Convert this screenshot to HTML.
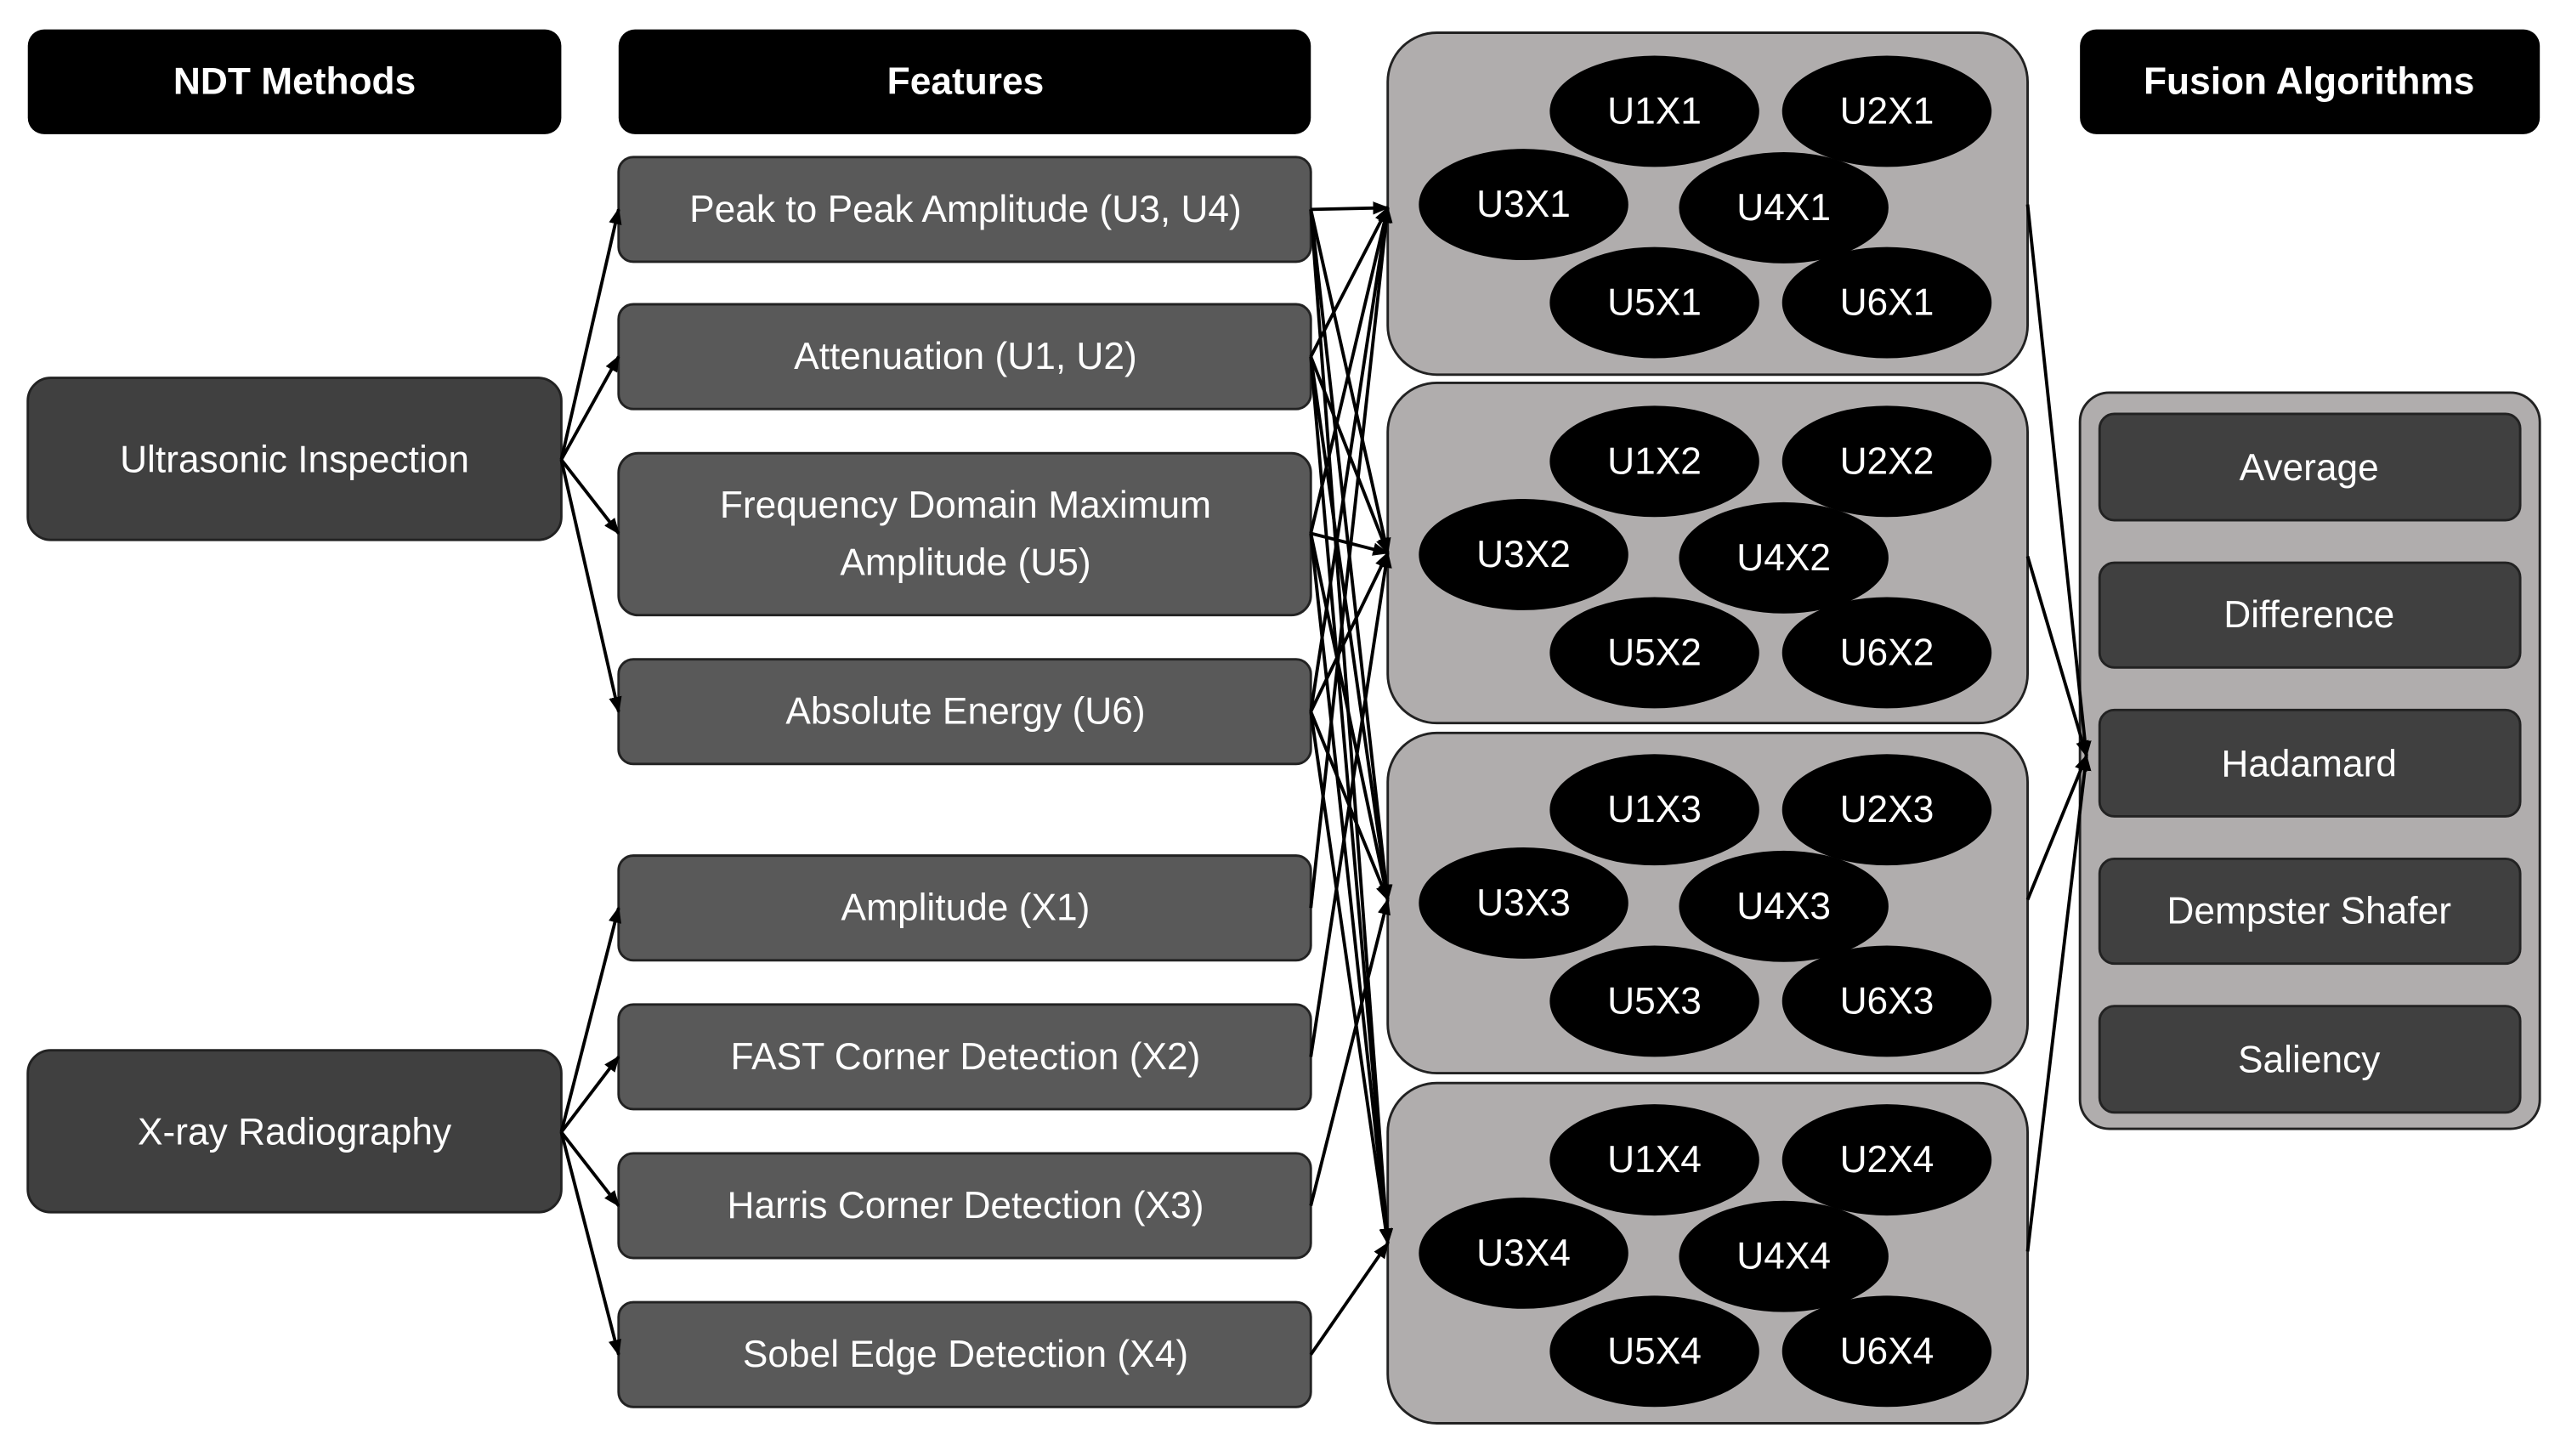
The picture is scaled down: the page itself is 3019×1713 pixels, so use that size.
<!DOCTYPE html>
<html><head><meta charset="utf-8"><style>
html,body{margin:0;padding:0;background:#fff;}
svg{display:block;}
text{font-family:"Liberation Sans",sans-serif;fill:#fff;text-anchor:middle;dominant-baseline:central;}
</style></head><body>
<svg width="3019" height="1713" viewBox="0 0 1568 890" preserveAspectRatio="none" xmlns="http://www.w3.org/2000/svg">
<defs>
<marker id="a" markerWidth="10" markerHeight="8" refX="9" refY="4" orient="auto" markerUnits="userSpaceOnUse">
<path d="M0,0 L10,4 L0,8 z" fill="#000"/></marker>
</defs>
<!-- headers -->
<rect x="17" y="18" width="326" height="64" rx="10" fill="#000"/>
<text x="180" y="50" font-size="23" font-weight="bold">NDT Methods</text>
<rect x="378" y="18" width="423" height="64" rx="10" fill="#000"/>
<text x="590" y="50" font-size="23" font-weight="bold">Features</text>
<rect x="1271" y="18" width="281" height="64" rx="10" fill="#000"/>
<text x="1411" y="50" font-size="23" font-weight="bold">Fusion Algorithms</text>
<!-- NDT -->
<g stroke="#222" stroke-width="1.5">
<rect x="17" y="231" width="326" height="99" rx="14" fill="#404040"/>
<rect x="17" y="642" width="326" height="99" rx="14" fill="#404040"/>
</g>
<text x="180" y="281" font-size="23">Ultrasonic Inspection</text>
<text x="180" y="692" font-size="23">X-ray Radiography</text>
<!-- features -->
<g fill="#595959" stroke="#222" stroke-width="1.5">
<rect x="378" y="96" width="423" height="64" rx="9"/>
<rect x="378" y="186" width="423" height="64" rx="9"/>
<rect x="378" y="277" width="423" height="99" rx="12"/>
<rect x="378" y="403" width="423" height="64" rx="9"/>
<rect x="378" y="523" width="423" height="64" rx="9"/>
<rect x="378" y="614" width="423" height="64" rx="9"/>
<rect x="378" y="705" width="423" height="64" rx="9"/>
<rect x="378" y="796" width="423" height="64" rx="9"/>
</g>
<g font-size="23">
<text x="590" y="128">Peak to Peak Amplitude (U3, U4)</text>
<text x="590" y="218">Attenuation (U1, U2)</text>
<text x="590" y="309">Frequency Domain Maximum</text>
<text x="590" y="344">Amplitude (U5)</text>
<text x="590" y="435">Absolute Energy (U6)</text>
<text x="590" y="555">Amplitude (X1)</text>
<text x="590" y="646">FAST Corner Detection (X2)</text>
<text x="590" y="737">Harris Corner Detection (X3)</text>
<text x="590" y="828">Sobel Edge Detection (X4)</text>
</g>
<!-- groups -->
<g fill="#b0adad" stroke="#222" stroke-width="1.5">
<rect x="848" y="20" width="391" height="209" rx="30"/>
<rect x="848" y="234" width="391" height="208" rx="30"/>
<rect x="848" y="448" width="391" height="208" rx="30"/>
<rect x="848" y="662" width="391" height="208" rx="30"/>
</g>
<g id="g1">
<ellipse cx="1011" cy="68" rx="64" ry="34"/>
<ellipse cx="1153" cy="68" rx="64" ry="34"/>
<ellipse cx="931" cy="125" rx="64" ry="34"/>
<ellipse cx="1090" cy="127" rx="64" ry="34"/>
<ellipse cx="1011" cy="185" rx="64" ry="34"/>
<ellipse cx="1153" cy="185" rx="64" ry="34"/>
</g>
<g font-size="23">
<text x="1011" y="68">U1X1</text><text x="1153" y="68">U2X1</text><text x="931" y="125">U3X1</text><text x="1090" y="127">U4X1</text><text x="1011" y="185">U5X1</text><text x="1153" y="185">U6X1</text>
</g>
<g transform="translate(0,214)"><use href="#g1"/><g font-size="23">
<text x="1011" y="68">U1X2</text><text x="1153" y="68">U2X2</text><text x="931" y="125">U3X2</text><text x="1090" y="127">U4X2</text><text x="1011" y="185">U5X2</text><text x="1153" y="185">U6X2</text></g></g>
<g transform="translate(0,427)"><use href="#g1"/><g font-size="23">
<text x="1011" y="68">U1X3</text><text x="1153" y="68">U2X3</text><text x="931" y="125">U3X3</text><text x="1090" y="127">U4X3</text><text x="1011" y="185">U5X3</text><text x="1153" y="185">U6X3</text></g></g>
<g transform="translate(0,641)"><use href="#g1"/><g font-size="23">
<text x="1011" y="68">U1X4</text><text x="1153" y="68">U2X4</text><text x="931" y="125">U3X4</text><text x="1090" y="127">U4X4</text><text x="1011" y="185">U5X4</text><text x="1153" y="185">U6X4</text></g></g>
<!-- fusion -->
<rect x="1271" y="240" width="281" height="450" rx="18" fill="#b0adad" stroke="#222" stroke-width="1.5"/>
<g fill="#404040" stroke="#222" stroke-width="1.5">
<rect x="1283" y="253" width="257" height="65" rx="9"/>
<rect x="1283" y="344" width="257" height="64" rx="9"/>
<rect x="1283" y="434" width="257" height="65" rx="9"/>
<rect x="1283" y="525" width="257" height="64" rx="9"/>
<rect x="1283" y="615" width="257" height="65" rx="9"/>
</g>
<g font-size="23">
<text x="1411" y="286">Average</text>
<text x="1411" y="376">Difference</text>
<text x="1411" y="467">Hadamard</text>
<text x="1411" y="557">Dempster Shafer</text>
<text x="1411" y="648">Saliency</text>
</g>
<!-- connectors -->
<g stroke="#000" stroke-width="2" fill="none" marker-end="url(#a)">
<line x1="343" y1="281" x2="378" y2="128"/>
<line x1="343" y1="281" x2="378" y2="218"/>
<line x1="343" y1="281" x2="378" y2="326"/>
<line x1="343" y1="281" x2="378" y2="435"/>
<line x1="343" y1="692" x2="378" y2="555"/>
<line x1="343" y1="692" x2="378" y2="646"/>
<line x1="343" y1="692" x2="378" y2="737"/>
<line x1="343" y1="692" x2="378" y2="828"/>
<line x1="801" y1="128" x2="848" y2="127"/><line x1="801" y1="128" x2="848" y2="338"/><line x1="801" y1="128" x2="848" y2="550"/><line x1="801" y1="128" x2="848" y2="760"/>
<line x1="801" y1="218" x2="848" y2="127"/><line x1="801" y1="218" x2="848" y2="338"/><line x1="801" y1="218" x2="848" y2="550"/><line x1="801" y1="218" x2="848" y2="760"/>
<line x1="801" y1="326" x2="848" y2="127"/><line x1="801" y1="326" x2="848" y2="338"/><line x1="801" y1="326" x2="848" y2="550"/><line x1="801" y1="326" x2="848" y2="760"/>
<line x1="801" y1="435" x2="848" y2="127"/><line x1="801" y1="435" x2="848" y2="338"/><line x1="801" y1="435" x2="848" y2="550"/><line x1="801" y1="435" x2="848" y2="760"/>
<line x1="801" y1="555" x2="848" y2="127"/>
<line x1="801" y1="646" x2="848" y2="338"/>
<line x1="801" y1="737" x2="848" y2="550"/>
<line x1="801" y1="828" x2="848" y2="760"/>
<line x1="1239" y1="125" x2="1275" y2="462"/>
<line x1="1239" y1="340" x2="1275" y2="462"/>
<line x1="1239" y1="550" x2="1275" y2="462"/>
<line x1="1239" y1="765" x2="1275" y2="462"/>
</g>
</svg>
</body></html>
